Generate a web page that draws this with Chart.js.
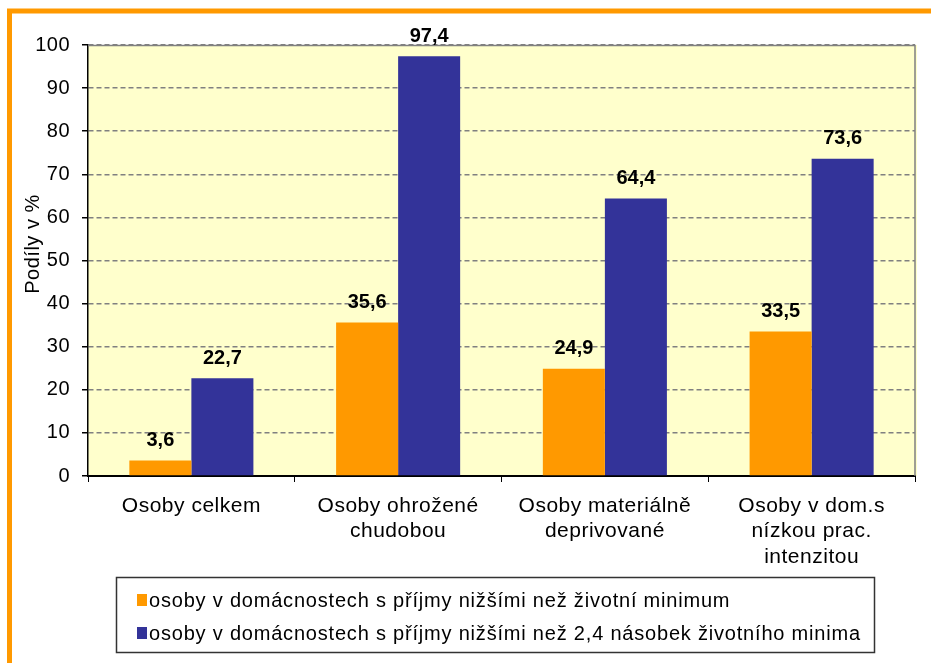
<!DOCTYPE html>
<html><head><meta charset="utf-8">
<script src="https://cdn.jsdelivr.net/npm/chart.js@4/dist/chart.umd.min.js"></script>
<style>html,body{margin:0;padding:0;background:#fff;}#wrap{width:931px;height:663px;position:relative;}</style>
</head><body><div id="wrap"><canvas id="c" width="931" height="663"></canvas></div>
<script>
const categories = [["Osoby celkem"], ["Osoby ohrožené", "chudobou"], ["Osoby materiálně", "deprivované"], ["Osoby v dom.s", "nízkou prac.", "intenzitou"]];
const seriesNames = ["osoby v domácnostech s příjmy nižšími než životní minimum", "osoby v domácnostech s příjmy nižšími než 2,4 násobek životního minima"];
const minimumValues = [3.6, 35.6, 24.9, 33.5];
const multipleValues = [22.7, 97.4, 64.4, 73.6];
const yTicks = [0, 10, 20, 30, 40, 50, 60, 70, 80, 90, 100];
const yTitle = "Podíly v %";

const FONT = "'Liberation Sans', Arial, sans-serif";
const ORANGE = "#FF9900", BLUE = "#333399";

function setSpacing(chart) { try { chart.ctx.letterSpacing = '0.5px'; } catch (e) {} }

const decor = {
  id: 'decor',
  beforeUpdate(chart) { setSpacing(chart); },
  beforeLayout(chart) { setSpacing(chart); },
  beforeDraw(chart) {
    setSpacing(chart);
    const {ctx, chartArea: a} = chart;
    ctx.save();
    ctx.fillStyle = '#FFFFCC';
    ctx.fillRect(a.left, a.top, a.right - a.left + 2, a.bottom - a.top);
    ctx.strokeStyle = ORANGE; ctx.lineWidth = 5;
    ctx.strokeRect(9.5, 11, 1000, 1000);
    ctx.restore();
  },
  afterDraw(chart) {
    const {ctx, chartArea: a} = chart;
    ctx.save();
    ctx.strokeStyle = '#808080'; ctx.lineWidth = 1.5;
    ctx.beginPath();
    ctx.moveTo(a.left, a.top + 0.5); ctx.lineTo(a.right, a.top + 0.5); ctx.lineTo(a.right, a.bottom);
    ctx.stroke();
    // data labels
    ctx.letterSpacing = '0px';
    ctx.fillStyle = '#000'; ctx.font = "bold 20px " + FONT;
    ctx.textAlign = 'center'; ctx.textBaseline = 'bottom';
    chart.data.datasets.forEach((ds, di) => {
      chart.getDatasetMeta(di).data.forEach((bar, i) => {
        ctx.fillText(String(ds.data[i]).replace('.', ','), bar.x, bar.y - 10);
      });
    });
    // y title
    ctx.save();
    ctx.translate(33, 244);
    ctx.rotate(-Math.PI / 2);
    ctx.font = "20px " + FONT; ctx.textBaseline = 'middle'; ctx.textAlign = 'center';
    ctx.letterSpacing = '0.5px';
    ctx.fillText(yTitle, 0, 0);
    ctx.restore();
    // legend box
    const bx = 116.5, by = 577.5, bw = 758, bh = 75;
    ctx.strokeStyle = '#333'; ctx.lineWidth = 1.5;
    ctx.strokeRect(bx, by, bw, bh);
    ctx.font = "20px " + FONT; ctx.textAlign = 'left'; ctx.textBaseline = 'middle';
    ctx.letterSpacing = '0.8px';
    const rows = [601, 634];
    chart.data.datasets.forEach((ds, di) => {
      ctx.fillStyle = ds.backgroundColor;
      ctx.fillRect(137, rows[di] - 7, 10, 12);
      ctx.fillStyle = '#000';
      ctx.fillText(ds.label, 149, rows[di]);
    });
    ctx.restore();
  }
};

new Chart(document.getElementById('c'), {
  type: 'bar',
  data: {
    labels: categories,
    datasets: [
      {label: seriesNames[0], data: minimumValues, backgroundColor: ORANGE},
      {label: seriesNames[1], data: multipleValues, backgroundColor: BLUE}
    ]
  },
  options: {
    responsive: false, animation: false,
    layout: {padding: {left: 0, top: 45, right: 16, bottom: 0}},
    datasets: {bar: {categoryPercentage: 0.6, barPercentage: 1.0}},
    plugins: {legend: {display: false}, tooltip: {enabled: false}},
    scales: {
      x: {
        afterFit(s) { s.height = 187; },
        grid: {display: true, drawOnChartArea: false, drawTicks: true, tickLength: 6, color: '#000', tickColor: '#000', offset: true},
        border: {display: true, color: '#000', width: 2},
        ticks: {color: '#000', font: {family: FONT, size: 21, lineHeight: 1.22}, padding: 11, maxRotation: 0, autoSkip: false}
      },
      y: {
        min: 0, max: 100,
        afterFit(s) { s.width = 88; },
        afterBuildTicks(s) { s.ticks = yTicks.map(v => ({value: v})); },
        grid: {color: '#808080', lineWidth: 1.5, tickColor: '#000', tickLength: 6, drawTicks: true},
        border: {display: true, color: '#000', width: 1.5, dash: [5, 3]},
        ticks: {color: '#000', font: {family: FONT, size: 20}, padding: 12},
        title: {display: false}
      }
    }
  },
  plugins: [decor]
});
</script></body></html>
